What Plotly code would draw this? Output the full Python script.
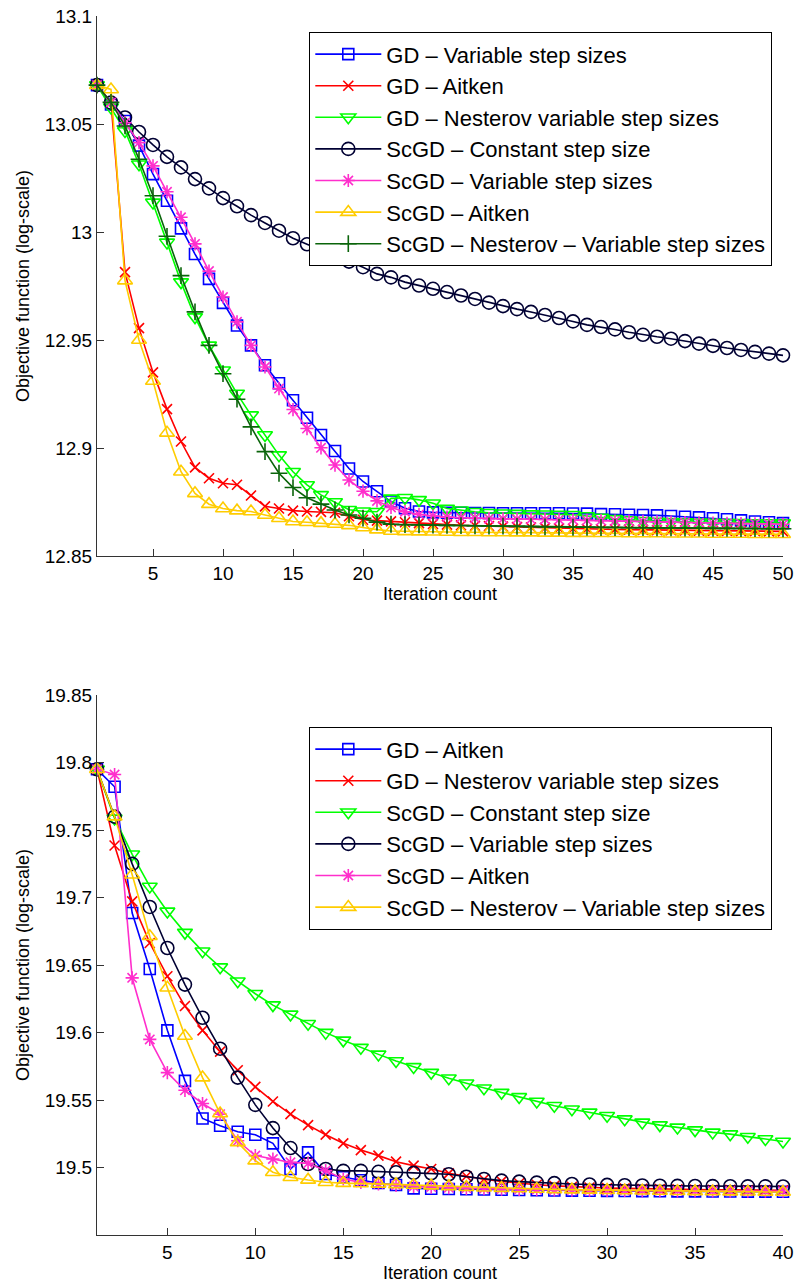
import plotly.graph_objects as go

# ---------------- data ----------------
iters_top = list(range(1, 51))
iters_bot = list(range(1, 41))

top_names = ["GD – Variable step sizes", "GD – Aitken", "GD – Nesterov variable step sizes",
             "ScGD – Constant step size", "ScGD – Variable step sizes", "ScGD – Aitken",
             "ScGD – Nesterov – Variable step sizes"]

top_gd_variable = [13.068, 13.059, 13.0514, 13.040, 13.0268, 13.0145, 13.0017, 12.9898, 12.9783, 12.9672,
                   12.9567, 12.9475, 12.9383, 12.9300, 12.9221, 12.9140, 12.9060, 12.8986, 12.8905, 12.8845,
                   12.8800, 12.8752, 12.8721, 12.8706, 12.8702, 12.8700, 12.8700, 12.8699, 12.8699, 12.8698,
                   12.8698, 12.8698, 12.8698, 12.8698, 12.8697, 12.8696, 12.8694, 12.8693, 12.8691, 12.8690,
                   12.8688, 12.8685, 12.8682, 12.8679, 12.8675, 12.8670, 12.8665, 12.8660, 12.8656, 12.8652]
top_gd_aitken = [13.068, 13.060, 12.9814, 12.9555, 12.935, 12.918, 12.903, 12.891, 12.886, 12.8837,
                 12.883, 12.878, 12.873, 12.872, 12.871, 12.8706, 12.8704, 12.870, 12.8684, 12.8668,
                 12.8664, 12.866, 12.8656, 12.8652, 12.8648, 12.8645, 12.8642, 12.864, 12.8638, 12.8636,
                 12.8634, 12.8632, 12.863, 12.8628, 12.8626, 12.8625, 12.8624, 12.8623, 12.8622, 12.8621,
                 12.862, 12.8619, 12.8618, 12.8617, 12.8616, 12.8616, 12.8615, 12.8615, 12.8614, 12.8614]
top_gd_nesterov = [13.068, 13.0577, 13.0468, 13.0314, 13.0137, 12.9952, 12.9768, 12.9606, 12.9475, 12.936,
                   12.9252, 12.9152, 12.906, 12.8967, 12.889, 12.8829, 12.8783, 12.8750, 12.8714, 12.8707,
                   12.8705, 12.8767, 12.8770, 12.876, 12.8744, 12.872, 12.8712, 12.8705, 12.870, 12.8698,
                   12.8696, 12.8694, 12.8693, 12.8692, 12.8691, 12.8685, 12.8678, 12.8672, 12.8667, 12.8663,
                   12.866, 12.8658, 12.8657, 12.8656, 12.8655, 12.8654, 12.8654, 12.8653, 12.8653, 12.8652]
top_scgd_constant = [13.068, 13.0599, 13.053, 13.0463, 13.0403, 13.0348, 13.0299, 13.0245, 13.0202, 13.0157,
                     13.0119, 13.0078, 13.0042, 13.0006, 12.9971, 12.9943, 12.9916, 12.9890, 12.9863, 12.9837,
                     12.9806, 12.9790, 12.9768, 12.9752, 12.9737, 12.9722, 12.9706, 12.9690, 12.9673, 12.9657,
                     12.9643, 12.9630, 12.9616, 12.9602, 12.9586, 12.9570, 12.9560, 12.9549, 12.9536, 12.9524,
                     12.9515, 12.9506, 12.9495, 12.9483, 12.9473, 12.9463, 12.9454, 12.9445, 12.9437, 12.9429]
top_scgd_variable = [13.068, 13.060, 13.0506, 13.0414, 13.0306, 13.0186, 13.0068, 12.9945, 12.9819, 12.9699,
                     12.9584, 12.9475, 12.9375, 12.9275, 12.9178, 12.909, 12.9001, 12.8921, 12.8852, 12.880,
                     12.8755, 12.8725, 12.8705, 12.8692, 12.8685, 12.868, 12.8677, 12.8675, 12.8673, 12.8672,
                     12.8671, 12.867, 12.8669, 12.8668, 12.8667, 12.8665, 12.8664, 12.8662, 12.8661, 12.866,
                     12.8658, 12.8657, 12.8655, 12.8654, 12.8652, 12.8651, 12.865, 12.8649, 12.8648, 12.8647]
top_scgd_aitken = [13.068, 13.066, 12.9775, 12.950, 12.931, 12.907, 12.889, 12.879, 12.874, 12.872,
                   12.871, 12.8706, 12.869, 12.8675, 12.866, 12.8656, 12.8652, 12.8648, 12.8642, 12.8632,
                   12.8622, 12.8616, 12.8614, 12.8613, 12.8612, 12.8611, 12.861, 12.861, 12.8609, 12.8609,
                   12.8608, 12.8608, 12.8607, 12.8607, 12.8606, 12.8606, 12.8605, 12.8605, 12.8604, 12.8604,
                   12.8604, 12.8603, 12.8603, 12.8603, 12.8602, 12.8602, 12.8602, 12.8601, 12.8601, 12.8601]
top_scgd_nesterov = [13.068, 13.060, 13.0491, 13.0337, 13.0168, 12.998, 12.9798, 12.963, 12.9475, 12.9344,
                     12.9226, 12.9098, 12.8983, 12.8883, 12.8817, 12.877, 12.874, 12.8713, 12.869, 12.8675,
                     12.8657, 12.8647, 12.8645, 12.8644, 12.8643, 12.8642, 12.8641, 12.864, 12.8639, 12.8638,
                     12.8637, 12.8636, 12.8635, 12.8634, 12.8633, 12.8633, 12.8632, 12.8632, 12.8631, 12.8631,
                     12.863, 12.863, 12.8629, 12.8629, 12.8628, 12.8628, 12.8627, 12.8627, 12.8626, 12.8626]

bot_names = ["GD – Aitken", "GD – Nesterov variable step sizes", "ScGD – Constant step size",
             "ScGD – Variable step sizes", "ScGD – Aitken", "ScGD – Nesterov – Variable step sizes"]

bot_gd_aitken = [19.795, 19.782, 19.6885, 19.647, 19.6016, 19.5642, 19.5363, 19.5309, 19.5265, 19.5243,
                 19.5179, 19.4989, 19.5112, 19.4952, 19.4928, 19.4905, 19.4885, 19.487, 19.4845, 19.4843,
                 19.4841, 19.4839, 19.4837, 19.4835, 19.4833, 19.4831, 19.483, 19.4829, 19.4828, 19.4827,
                 19.4826, 19.4825, 19.4824, 19.4823, 19.4823, 19.4822, 19.4822, 19.4821, 19.4821, 19.482]
bot_gd_nesterov = [19.795, 19.7385, 19.6971, 19.6663, 19.6417, 19.6196, 19.6016, 19.5858, 19.572, 19.5597,
                   19.5489, 19.5395, 19.5314, 19.5243, 19.5179, 19.5129, 19.5088, 19.5043, 19.5014, 19.4989,
                   19.4957, 19.4935, 19.4913, 19.4897, 19.4883, 19.4872, 19.4864, 19.4857, 19.4852, 19.4848,
                   19.4845, 19.4842, 19.484, 19.4838, 19.4836, 19.4835, 19.4834, 19.4833, 19.4832, 19.4831]
bot_scgd_constant = [19.795, 19.7586, 19.732, 19.7082, 19.6897, 19.674, 19.6602, 19.6484, 19.638, 19.6287,
                     19.6203, 19.6134, 19.6065, 19.5999, 19.5942, 19.5888, 19.5838, 19.5789, 19.5745, 19.5703,
                     19.5661, 19.5624, 19.5587, 19.5555, 19.5523, 19.5489, 19.5457, 19.5432, 19.5408, 19.5383,
                     19.5358, 19.5334, 19.5314, 19.5297, 19.5277, 19.526, 19.5247, 19.5228, 19.5211, 19.5193]
bot_scgd_variable = [19.795, 19.7599, 19.7249, 19.693, 19.6626, 19.6355, 19.6109, 19.588, 19.5666, 19.5464,
                     19.5292, 19.5144, 19.5026, 19.4989, 19.4975, 19.4975, 19.4968, 19.4965, 19.496, 19.4957,
                     19.495, 19.4932, 19.4915, 19.4903, 19.4895, 19.4888, 19.4884, 19.4878, 19.4874, 19.4871,
                     19.4869, 19.4867, 19.4865, 19.4864, 19.4863, 19.4862, 19.4861, 19.486, 19.486, 19.4859]
bot_scgd_aitken = [19.795, 19.7911, 19.6405, 19.5949, 19.5703, 19.5572, 19.5474, 19.5395, 19.5198, 19.5088,
                   19.5063, 19.5038, 19.5031, 19.4977, 19.4915, 19.489, 19.4878, 19.4868, 19.486, 19.4855,
                   19.485, 19.4846, 19.4843, 19.484, 19.4838, 19.4836, 19.4834, 19.4833, 19.4832, 19.4831,
                   19.483, 19.4829, 19.4828, 19.4827, 19.4826, 19.4826, 19.4825, 19.4825, 19.4824, 19.4824]
bot_scgd_nesterov = [19.795, 19.7599, 19.7168, 19.6713, 19.6331, 19.5974, 19.5666, 19.540, 19.5186, 19.5051,
                     19.4965, 19.4928, 19.4908, 19.4891, 19.4884, 19.4882, 19.4879, 19.4875, 19.487, 19.4866,
                     19.486, 19.4855, 19.485, 19.4847, 19.4844, 19.4841, 19.4838, 19.4836, 19.4834, 19.4832,
                     19.483, 19.4828, 19.4826, 19.4824, 19.4823, 19.4822, 19.4821, 19.482, 19.4819, 19.4818]

top_xticks = [5, 10, 15, 20, 25, 30, 35, 40, 45, 50]
top_yticks = [12.85, 12.9, 12.95, 13.0, 13.05, 13.1]
top_yticklabels = ["12.85", "12.9", "12.95", "13", "13.05", "13.1"]
bot_xticks = [5, 10, 15, 20, 25, 30, 35, 40]
bot_yticks = [19.5, 19.55, 19.6, 19.65, 19.7, 19.75, 19.8, 19.85]
bot_yticklabels = ["19.5", "19.55", "19.6", "19.65", "19.7", "19.75", "19.8", "19.85"]

# ---------------- styles ----------------
BLUE, RED, GREEN, NAVY, PINK, GOLD, DKGREEN = "#0000FF", "#FF0000", "#00FF00", "#000033", "#FF2ECC", "#FFCC00", "#0A640A"

top_series = [top_gd_variable, top_gd_aitken, top_gd_nesterov, top_scgd_constant,
              top_scgd_variable, top_scgd_aitken, top_scgd_nesterov]
top_styles = [(BLUE, "square-open", 11), (RED, "x-thin-open", 10), (GREEN, "triangle-down-open", 13),
              (NAVY, "circle-open", 13), (PINK, "asterisk-open", 11), (GOLD, "triangle-up-open", 13),
              (DKGREEN, "cross-thin-open", 12)]
bot_series = [bot_gd_aitken, bot_gd_nesterov, bot_scgd_constant, bot_scgd_variable,
              bot_scgd_aitken, bot_scgd_nesterov]
bot_styles = [(BLUE, "square-open", 11), (RED, "x-thin-open", 10), (GREEN, "triangle-down-open", 13),
              (NAVY, "circle-open", 13), (PINK, "asterisk-open", 11), (GOLD, "triangle-up-open", 13)]

FONT = "Liberation Sans, Arial, Helvetica, sans-serif"

fig = go.Figure()
for i, (name, ys, (col, sym, sz)) in enumerate(zip(top_names, top_series, top_styles)):
    fig.add_trace(go.Scatter(
        x=iters_top, y=ys, name=name, mode="lines+markers", xaxis="x", yaxis="y",
        legend="legend", legendgroup="t%d" % i, cliponaxis=False,
        line=dict(color=col, width=1.6),
        marker=dict(symbol=sym, size=sz, color=col, line=dict(color=col, width=1.6))))
for i, (name, ys, (col, sym, sz)) in enumerate(zip(bot_names, bot_series, bot_styles)):
    fig.add_trace(go.Scatter(
        x=iters_bot, y=ys, name=name, mode="lines+markers", xaxis="x2", yaxis="y2",
        legend="legend2", legendgroup="b%d" % i, cliponaxis=False,
        line=dict(color=col, width=1.6),
        marker=dict(symbol=sym, size=sz, color=col, line=dict(color=col, width=1.6))))

W, H = 795, 1287
ML, MR, MT, MB = 97, 12, 16, 52
PW, PH = W - ML - MR, H - MT - MB
sub_h = 540 / PH

axis_common = dict(showline=True, linecolor="#333333", linewidth=1, ticks="inside", ticklen=7,
                   tickcolor="#333333", showgrid=False, zeroline=False, mirror=False, automargin=False,
                   tickfont=dict(family=FONT, size=19, color="black"))
title_font = dict(family=FONT, size=18, color="black")

fig.update_layout(
    width=W, height=H, margin=dict(l=ML, r=MR, t=MT, b=MB, pad=0, autoexpand=False),
    paper_bgcolor="white", plot_bgcolor="white",
    font=dict(family=FONT, size=18, color="black"),
    xaxis=dict(domain=[0, 1], anchor="y", range=[1, 50], tickvals=top_xticks,
               title=dict(text="Iteration count", font=title_font, standoff=2),
               **axis_common),
    yaxis=dict(domain=[1 - sub_h, 1], anchor="x", range=[12.85, 13.1], tickvals=top_yticks,
               ticktext=top_yticklabels,
               title=dict(text="Objective function (log-scale)", font=title_font, standoff=10),
               **axis_common),
    xaxis2=dict(domain=[0, 1], anchor="y2", range=[1, 40], tickvals=bot_xticks,
                title=dict(text="Iteration count", font=title_font, standoff=2),
                **axis_common),
    yaxis2=dict(domain=[0, sub_h], anchor="x2", range=[19.45, 19.85], tickvals=bot_yticks,
                ticktext=bot_yticklabels,
                title=dict(text="Objective function (log-scale)", font=title_font, standoff=10),
                **axis_common),
    legend=dict(x=(309 - ML) / PW, y=(H - MB - 32) / PH, xanchor="left", yanchor="top",
                bgcolor="white", bordercolor="black", borderwidth=1.3,
                font=dict(family=FONT, size=22, color="black"), itemwidth=66, tracegroupgap=7,
                traceorder="normal"),
    legend2=dict(x=(309 - ML) / PW, y=(H - MB - 727) / PH, xanchor="left", yanchor="top",
                 bgcolor="white", bordercolor="black", borderwidth=1.3,
                 font=dict(family=FONT, size=22, color="black"), itemwidth=66, tracegroupgap=7,
                 traceorder="normal"),
)

fig.write_html("out.html")
